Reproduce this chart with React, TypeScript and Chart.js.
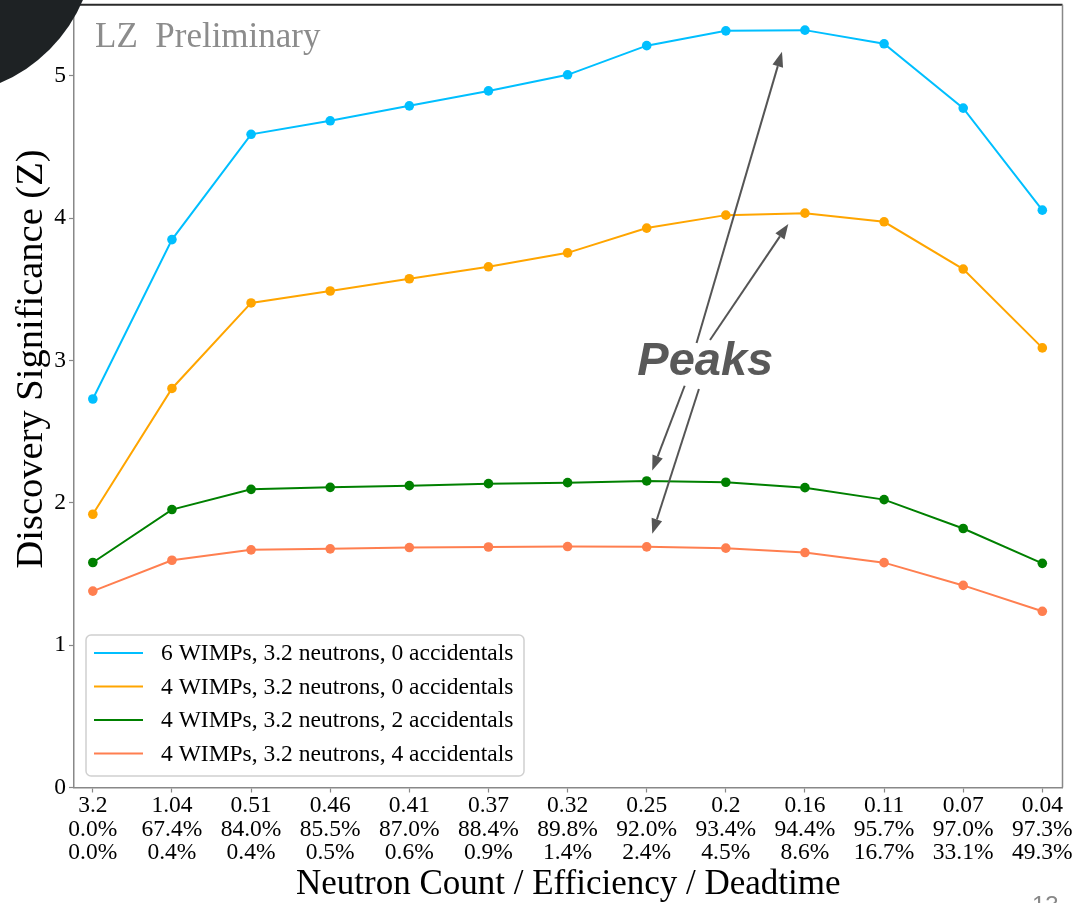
import React, { useEffect, useRef } from "react";
import { Chart, registerables } from "chart.js";

Chart.register(...registerables);

// Category tick rows: neutron count / efficiency / deadtime
const neutronCounts = ["3.2", "1.04", "0.51", "0.46", "0.41", "0.37", "0.32", "0.25", "0.2", "0.16", "0.11", "0.07", "0.04"];
const efficiencies = ["0.0%", "67.4%", "84.0%", "85.5%", "87.0%", "88.4%", "89.8%", "92.0%", "93.4%", "94.4%", "95.7%", "97.0%", "97.3%"];
const deadtimes = ["0.0%", "0.4%", "0.4%", "0.5%", "0.6%", "0.9%", "1.4%", "2.4%", "4.5%", "8.6%", "16.7%", "33.1%", "49.3%"];

// Discovery significance Z per configuration
const wimps6Acc0 = [2.73, 3.85, 4.59, 4.685, 4.79, 4.895, 5.008, 5.213, 5.317, 5.322, 5.226, 4.774, 4.057];
const wimps4Acc0 = [1.92, 2.804, 3.405, 3.489, 3.575, 3.659, 3.757, 3.931, 4.022, 4.036, 3.975, 3.643, 3.089];
const wimps4Acc2 = [1.581, 1.953, 2.095, 2.109, 2.121, 2.135, 2.142, 2.154, 2.145, 2.107, 2.023, 1.82, 1.575];
const wimps4Acc4 = [1.38, 1.597, 1.67, 1.677, 1.686, 1.69, 1.693, 1.691, 1.682, 1.651, 1.58, 1.42, 1.238];

const seriesLabels = [
  "6 WIMPs, 3.2 neutrons, 0 accidentals",
  "4 WIMPs, 3.2 neutrons, 0 accidentals",
  "4 WIMPs, 3.2 neutrons, 2 accidentals",
  "4 WIMPs, 3.2 neutrons, 4 accidentals",
];
const seriesColors = ["#00bfff", "#ffa500", "#008000", "#ff7f50"];

// "Peaks" annotation arrows, in data coordinates (category index, Z)
const peakArrows = [
  { from: [7.63, 3.124], to: [8.71, 5.17] },
  { from: [7.8, 3.145], to: [8.79, 3.96] },
  { from: [7.48, 2.823], to: [7.07, 2.227] },
  { from: [7.66, 2.8], to: [7.07, 1.783] },
];
const peaksLabelAt = [7.74, 2.9];

const SERIF = '"Liberation Serif", "Times New Roman", serif';

const decorations = {
  id: "decorations",
  afterDraw(chart: any) {
    const { ctx, chartArea: a, scales } = chart;
    const xs = scales.x;
    const ys = scales.y;
    ctx.save();

    // top and right frame lines
    ctx.lineWidth = 2;
    ctx.strokeStyle = "#2a2a2a";
    ctx.beginPath();
    ctx.moveTo(a.left, a.top);
    ctx.lineTo(a.right, a.top);
    ctx.stroke();
    ctx.lineWidth = 1.5;
    ctx.strokeStyle = "#888888";
    ctx.beginPath();
    ctx.moveTo(a.right, a.top);
    ctx.lineTo(a.right, a.bottom);
    ctx.stroke();

    // watermark
    ctx.fillStyle = "#8c8c8c";
    ctx.font = `35px ${SERIF}`;
    ctx.textAlign = "left";
    ctx.textBaseline = "alphabetic";
    ctx.fillText("LZ  Preliminary", a.left + 21, a.top + 42);

    // y axis title
    ctx.save();
    ctx.translate(32, 359);
    ctx.rotate(-Math.PI / 2);
    ctx.fillStyle = "#000";
    ctx.font = `38.5px ${SERIF}`;
    ctx.textAlign = "center";
    ctx.textBaseline = "middle";
    ctx.fillText("Discovery Significance (Z)", 0, 0);
    ctx.restore();

    // peak arrows
    ctx.strokeStyle = "#555555";
    ctx.fillStyle = "#555555";
    ctx.lineWidth = 2;
    const headLen = 15;
    const headHalf = 5.5;
    peakArrows.forEach((arr) => {
      const x0 = xs.getPixelForValue(arr.from[0]);
      const y0 = ys.getPixelForValue(arr.from[1]);
      const x1 = xs.getPixelForValue(arr.to[0]);
      const y1 = ys.getPixelForValue(arr.to[1]);
      const dx = x1 - x0;
      const dy = y1 - y0;
      const len = Math.hypot(dx, dy);
      const ux = dx / len;
      const uy = dy / len;
      const bx = x1 - ux * headLen;
      const by = y1 - uy * headLen;
      ctx.beginPath();
      ctx.moveTo(x0, y0);
      ctx.lineTo(bx, by);
      ctx.stroke();
      ctx.beginPath();
      ctx.moveTo(x1, y1);
      ctx.lineTo(bx - uy * headHalf, by + ux * headHalf);
      ctx.lineTo(bx + uy * headHalf, by - ux * headHalf);
      ctx.closePath();
      ctx.fill();
    });

    ctx.fillStyle = "#595959";
    ctx.font = 'italic bold 47px "Liberation Sans", Arial, sans-serif';
    ctx.textAlign = "center";
    ctx.textBaseline = "alphabetic";
    ctx.fillText("Peaks", xs.getPixelForValue(peaksLabelAt[0]), ys.getPixelForValue(peaksLabelAt[1]));

    // legend box, lower left of the plot area
    const bw = 438;
    const bh = 141;
    const bx = a.left + 12;
    const by = a.bottom - 11.5 - bh;
    ctx.beginPath();
    (ctx as any).roundRect(bx, by, bw, bh, 5);
    ctx.fillStyle = "rgba(255,255,255,0.8)";
    ctx.fill();
    ctx.strokeStyle = "#d0d0d0";
    ctx.lineWidth = 1.5;
    ctx.stroke();
    ctx.font = `23.5px ${SERIF}`;
    ctx.textAlign = "left";
    ctx.textBaseline = "middle";
    chart.data.datasets.forEach((ds: any, i: number) => {
      const ry = by + 18 + i * 33.5;
      ctx.strokeStyle = ds.borderColor;
      ctx.lineWidth = 2;
      ctx.beginPath();
      ctx.moveTo(bx + 8, ry);
      ctx.lineTo(bx + 57, ry);
      ctx.stroke();
      ctx.fillStyle = "#000";
      ctx.fillText(ds.label, bx + 75, ry + 1);
    });

    ctx.restore();
  },
};

export default function App() {
  const canvasRef = useRef<HTMLCanvasElement | null>(null);

  useEffect(() => {
    const canvas = canvasRef.current;
    if (!canvas) return;
    const indices = neutronCounts.map((_, i) => i);
    const series = [wimps6Acc0, wimps4Acc0, wimps4Acc2, wimps4Acc4];
    const chart = new Chart(canvas, {
      type: "line",
      data: {
        datasets: series.map((vals, s) => ({
          label: seriesLabels[s],
          data: vals.map((v, i) => ({ x: indices[i], y: v })),
          borderColor: seriesColors[s],
          backgroundColor: seriesColors[s],
          borderWidth: 2,
          pointRadius: 4.8,
          pointBorderWidth: 0,
          pointBackgroundColor: seriesColors[s],
          tension: 0,
          fill: false,
        })),
      },
      options: {
        animation: false,
        responsive: false,
        devicePixelRatio: 1,
        layout: { padding: { left: 0, right: 14.5, top: 3, bottom: 0 } },
        plugins: {
          legend: { display: false },
          tooltip: { enabled: false },
        },
        scales: {
          x: {
            type: "linear",
            min: -0.238,
            max: 12.255,
            afterBuildTicks: (scale: any) => {
              scale.ticks = indices.map((v) => ({ value: v }));
            },
            afterFit: (scale: any) => {
              scale.height = 115.5;
              scale.paddingLeft = 0;
              scale.paddingRight = 0;
            },
            ticks: {
              autoSkip: false,
              maxRotation: 0,
              minRotation: 0,
              padding: 2,
              color: "#000",
              font: { family: SERIF, size: 23.5, lineHeight: 1.0 },
              callback: (v: any) => {
                const i = Math.round(Number(v));
                return [neutronCounts[i], efficiencies[i], deadtimes[i]];
              },
            },
            grid: { drawOnChartArea: false, tickLength: 5, tickColor: "#888", tickWidth: 1.2 },
            border: { color: "#888", width: 1.5 },
            title: {
              display: true,
              text: "Neutron Count / Efficiency / Deadtime",
              color: "#000",
              font: { family: SERIF, size: 35, lineHeight: 1.05 },
              padding: 0,
            },
          },
          y: {
            min: 0,
            max: 5.5,
            afterFit: (scale: any) => {
              scale.width = 74;
              scale.paddingTop = 0;
              scale.paddingBottom = 0;
            },
            ticks: {
              stepSize: 1,
              includeBounds: false,
              padding: 3,
              color: "#000",
              font: { family: SERIF, size: 23.5 },
            },
            grid: { drawOnChartArea: false, tickLength: 5, tickColor: "#888", tickWidth: 1.2 },
            border: { color: "#888", width: 1.5 },
          },
        },
      },
      plugins: [decorations],
    });
    return () => chart.destroy();
  }, []);

  return (
    <div
      style={{
        position: "fixed",
        left: 0,
        top: 0,
        width: 1077,
        height: 903,
        overflow: "hidden",
        background: "#fff",
      }}
    >
      <canvas ref={canvasRef} width={1077} height={903} style={{ width: 1077, height: 903, display: "block" }} />
      <div
        style={{
          position: "absolute",
          left: -215,
          top: -215,
          width: 310,
          height: 310,
          borderRadius: "50%",
          background: "#1e2224",
        }}
      />
      <div
        style={{
          position: "absolute",
          left: 1032,
          top: 893,
          fontFamily: '"Liberation Sans", Arial, sans-serif',
          fontSize: 24,
          color: "#888",
          lineHeight: "24px",
        }}
      >
        13
      </div>
    </div>
  );
}
